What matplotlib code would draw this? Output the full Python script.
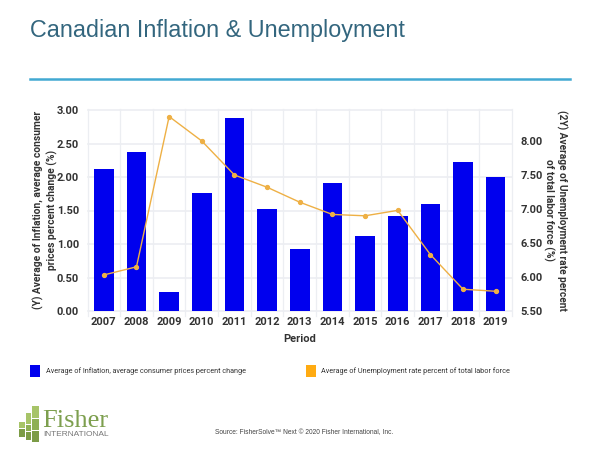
import matplotlib
matplotlib.use("Agg")
import matplotlib.pyplot as plt
from matplotlib.patches import Rectangle
from matplotlib.lines import Line2D

years = [2007, 2008, 2009, 2010, 2011, 2012, 2013, 2014, 2015, 2016, 2017, 2018, 2019]
inflation = [2.12, 2.37, 0.29, 1.76, 2.88, 1.52, 0.92, 1.91, 1.12, 1.42, 1.59, 2.23, 2.00]
unemployment = [6.03, 6.15, 8.36, 8.00, 7.50, 7.32, 7.10, 6.92, 6.90, 6.98, 6.33, 5.82, 5.79]
left_ticks = [0, 0.5, 1, 1.5, 2, 2.5, 3]
right_ticks = [5.5, 6, 6.5, 7, 7.5, 8]

W, H = 600, 450
plt.rcParams['font.family'] = ['Roboto', 'DejaVu Sans']
fig = plt.figure(figsize=(6, 4.5), dpi=100, facecolor='white')


def box(x0, y0, x1, y1):
    return [x0 / W, 1 - y1 / H, (x1 - x0) / W, (y1 - y0) / H]


def fx(x):
    return x / W


def fy(y):
    return 1 - y / H


ax = fig.add_axes(box(87.5, 110, 512, 311))
x = list(range(len(years)))
ax.set_xlim(-0.5, len(years) - 0.5)
ax.set_ylim(0, 3)
ax.set_axisbelow(True)
grid = '#eceef2'
for t in left_ticks:
    ax.axhline(t, color=grid, lw=1.2, zorder=0, clip_on=False)
for k in range(len(years) + 1):
    ax.plot([k - 0.5] * 2, [-0.07, 3.02], color=grid, lw=0.9, zorder=0, clip_on=False)
ax.bar(x, inflation, width=0.6, color='#0000ee', zorder=2)
for s in ax.spines.values():
    s.set_visible(False)
ax.tick_params(length=0, labelsize=8, labelcolor='#333333')
ax.tick_params(axis='x', pad=4)
ax.tick_params(axis='y', pad=6)
ax.set_xticks(x)
ax.set_xticklabels(years, fontweight='bold')
ax.set_yticks(left_ticks)
ax.set_yticklabels([f'{t:.2f}' for t in left_ticks], fontweight='bold')
ax.set_xlabel('Period', fontsize=8, fontweight='bold', color='#333333', labelpad=5.5)

ax2 = ax.twinx()
ax2.set_ylim(5.5, 5.5 + 201 / 68)
ax2.plot(x, unemployment, color='#eeb045', lw=1.0, marker='o', ms=2.8, zorder=5)
for s in ax2.spines.values():
    s.set_visible(False)
ax2.tick_params(length=0, labelsize=8, labelcolor='#333333', pad=6)
ax2.set_yticks(right_ticks)
ax2.set_yticklabels([f'{t:.2f}' for t in right_ticks], fontweight='bold')

fig.text(fx(45.5), fy(210), '(Y) Average of Inflation, average consumer\nprices percent change (%)',
         rotation=90, ha='center', va='center', ma='center', fontsize=7.4, fontweight='bold',
         color='#333333', linespacing=1.25)
fig.text(fx(555), fy(210), '(2Y) Average of Unemployment rate percent\nof total labor force (%)',
         rotation=270, ha='center', va='center', ma='center', fontsize=7.3, fontweight='bold',
         color='#333333', linespacing=1.25)

# Title and rule
fig.text(fx(30), fy(31), 'Canadian Inflation & Unemployment', fontsize=16.8, color='#33667e',
         family='Liberation Sans', ha='left', va='center')
fig.add_artist(Line2D([fx(30), fx(570)], [fy(78.5)] * 2, color='#42a9d2', lw=1.8))

# Legend
fig.add_artist(Rectangle((fx(30), fy(377)), 10 / W, 12 / H, color='#0000ee', lw=0))
fig.text(fx(45.5), fy(371.5), 'Average of Inflation, average consumer prices percent change',
         fontsize=5.2, color='#333333', va='center')
fig.add_artist(Rectangle((fx(306), fy(377)), 10 / W, 12 / H, color='#ffab12', lw=0))
fig.text(fx(321), fy(371.5), 'Average of Unemployment rate percent of total labor force',
         fontsize=5.2, color='#333333', va='center')

# Source
fig.text(fx(215), fy(432.5), 'Source: FisherSolve\u2122 Next \u00a9 2020 Fisher International, Inc.',
         fontsize=4.8, color='#444444', family='Liberation Sans', va='center')

# Logo
fig.text(fx(42.5), fy(427), 'Fisher', fontsize=19, color='#7d9f4e', family='Liberation Serif',
         ha='left', va='baseline')
fig.text(fx(43), fy(435.5), 'INTERNATIONAL', fontsize=6.0, color='#777777',
         family='Liberation Sans', ha='left', va='baseline')
blocks = [
    (32, 406, 38.5, 418, '#a7c468'), (32, 419, 38.5, 430, '#8fb054'), (32, 431, 38.5, 442, '#7c9c46'),
    (26, 413, 31, 424, '#a7c468'), (26, 425, 31, 431, '#8fb054'), (26, 432, 31, 440, '#7c9c46'),
    (19, 422, 25, 428, '#a7c468'), (19, 429, 25, 437, '#7c9c46'),
]
for x0, y0, x1, y1, c in blocks:
    fig.add_artist(Rectangle((fx(x0), fy(y1)), (x1 - x0) / W, (y1 - y0) / H, color=c, lw=0))

fig.savefig('out.png', dpi=100, facecolor='white')
